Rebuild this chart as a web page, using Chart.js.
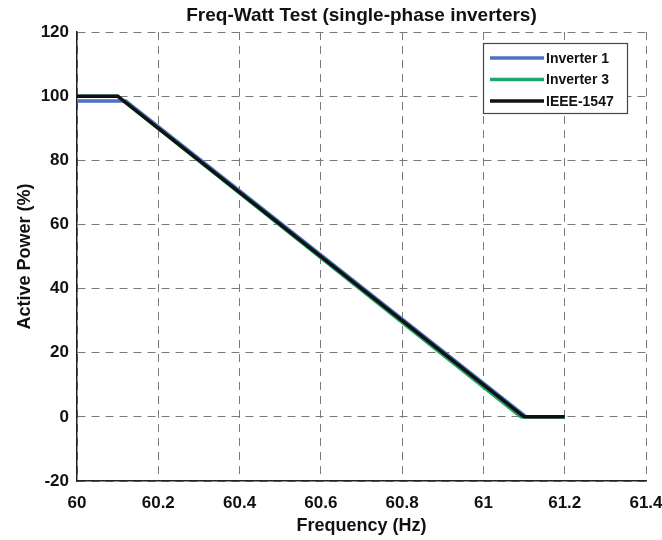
<!DOCTYPE html>
<html>
<head>
<meta charset="utf-8">
<script src="https://cdn.jsdelivr.net/npm/chart.js@4/dist/chart.umd.min.js"></script>
<style>
  html, body { margin: 0; padding: 0; background: #fff; }
  #wrap { width: 662px; height: 540px; position: relative; }
</style>
</head>
<body>
<div id="wrap"><canvas id="c"></canvas></div>
<script>
// Frequency (Hz) breakpoints and active power (%) for each curve
const seriesNames = ['Inverter 1', 'Inverter 3', 'IEEE-1547'];
const inverter1Freq = [60, 60.12, 61.105, 61.2];
const inverter1Power = [98.5, 98.5, 0, 0];
const inverter3Freq = [60, 60.1, 61.092, 61.2];
const inverter3Power = [100, 100, 0, 0];
const ieeeFreq = [60, 60.1, 61.1, 61.2];
const ieeePower = [100, 100, 0, 0];
const xTicks = [60, 60.2, 60.4, 60.6, 60.8, 61, 61.2, 61.4];
const yTicks = [-20, 0, 20, 40, 60, 80, 100, 120];

const colors = ['#4a72c4', '#22a46a', '#111111'];
const font = 'Liberation Sans, Arial, sans-serif';

function pts(xs, ys) { return xs.map((x, i) => ({ x: x, y: ys[i] })); }

// Boxed legend drawn inside the plot, upper right
const boxLegend = {
  id: 'boxLegend',
  afterDraw(chart) {
    const ctx = chart.ctx;
    const x0 = 483, y0 = 43, w = 144, h = 70;
    ctx.save();
    ctx.fillStyle = '#fff';
    ctx.fillRect(x0, y0, w, h);
    ctx.strokeStyle = '#444';
    ctx.lineWidth = 1.2;
    ctx.strokeRect(x0 + 0.5, y0 + 0.5, w, h);
    ctx.font = 'bold 14px ' + font;
    ctx.textBaseline = 'middle';
    chart.data.datasets.forEach((ds, i) => {
      const y = y0 + 15 + i * 21.5;
      ctx.strokeStyle = ds.borderColor;
      ctx.lineWidth = 3.5;
      ctx.beginPath();
      ctx.moveTo(x0 + 7, y);
      ctx.lineTo(x0 + 61, y);
      ctx.stroke();
      ctx.fillStyle = '#111';
      ctx.fillText(ds.label, x0 + 63, y + 1);
    });
    ctx.restore();
  }
};

// Title centred over the plot area
const topTitle = {
  id: 'topTitle',
  afterDraw(chart) {
    const ctx = chart.ctx;
    const a = chart.chartArea;
    ctx.save();
    ctx.font = 'bold 19px ' + font;
    ctx.fillStyle = '#111';
    ctx.textAlign = 'center';
    ctx.textBaseline = 'middle';
    ctx.fillText('Freq-Watt Test (single-phase inverters)', (a.left + a.right) / 2, 16);
    ctx.restore();
  }
};

const gridStyle = {
  color: '#7a7a7a',
  lineWidth: 1,
  drawTicks: false,
};

new Chart(document.getElementById('c'), {
  type: 'line',
  data: {
    datasets: [
      { label: seriesNames[0], data: pts(inverter1Freq, inverter1Power), borderColor: colors[0], order: 3 },
      { label: seriesNames[1], data: pts(inverter3Freq, inverter3Power), borderColor: colors[1], order: 2 },
      { label: seriesNames[2], data: pts(ieeeFreq, ieeePower), borderColor: colors[2], order: 1 },
    ].map(d => Object.assign(d, { borderWidth: 3.5, pointRadius: 0, fill: false, tension: 0 }))
  },
  options: {
    responsive: true,
    maintainAspectRatio: false,
    animation: false,
    layout: { padding: { left: 0, right: 16, top: 32, bottom: 3 } },
    plugins: { legend: { display: false }, title: { display: false }, tooltip: { enabled: false } },
    scales: {
      x: {
        type: 'linear',
        min: 60, max: 61.4,
        afterBuildTicks: s => { s.ticks = xTicks.map(v => ({ value: v })); },
        afterFit: s => { s.height = 56; s.paddingLeft = 0; s.paddingRight = 0; },
        ticks: {
          color: '#111', padding: 12,
          font: { family: font, size: 17, weight: 'bold' },
          maxRotation: 0,
          callback: v => String(Number(v.toFixed(1)))
        },
        grid: Object.assign({}, gridStyle),
        border: { display: true, color: '#222', width: 1.5, dash: [8, 6] },
        title: { display: true, text: 'Frequency (Hz)', color: '#111', padding: { top: 2, bottom: 0 },
                 font: { family: font, size: 18, weight: 'bold' } }
      },
      y: {
        min: -20, max: 120,
        afterBuildTicks: s => { s.ticks = yTicks.map(v => ({ value: v })); },
        afterFit: s => { s.width = 77; s.paddingTop = 0; s.paddingBottom = 0; },
        ticks: {
          color: '#111', padding: 8,
          font: { family: font, size: 17, weight: 'bold' }
        },
        grid: Object.assign({}, gridStyle),
        border: { display: true, color: '#222', width: 1.5, dash: [8, 6] },
        title: { display: true, text: 'Active Power (%)', color: '#111', padding: { top: 14, bottom: 4 },
                 font: { family: font, size: 18, weight: 'bold' } }
      }
    }
  },
  plugins: [boxLegend, topTitle]
});
</script>
</body>
</html>
